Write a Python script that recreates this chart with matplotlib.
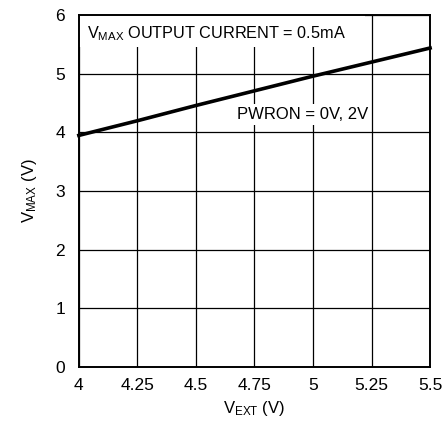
import numpy as np
import matplotlib
matplotlib.use("Agg")
from matplotlib import pyplot as plt
from matplotlib.patches import Rectangle

plt.rcParams['font.family'] = ['Liberation Sans Narrow', 'Liberation Sans', 'DejaVu Sans']
plt.rcParams['mathtext.fontset'] = 'custom'
plt.rcParams['mathtext.rm'] = 'Liberation Sans Narrow'
plt.rcParams['font.size'] = 11

# data
v_ext = [4.0, 4.25, 4.5, 4.75, 5.0, 5.25, 5.5]
v_max = [3.95, 4.20, 4.46, 4.71, 4.96, 5.20, 5.44]
x_ticks = [4, 4.25, 4.5, 4.75, 5, 5.25, 5.5]
x_labels = ['4', '4.25', '4.5', '4.75', '5', '5.25', '5.5']
y_ticks = [0, 1, 2, 3, 4, 5, 6]

fig = plt.figure(figsize=(4.48, 4.21), dpi=100)
ax = fig.add_axes([0.176, 0.128, 0.784, 0.836])

ax.set_xlim(4, 5.5)
ax.set_ylim(0, 6)
ax.set_xticks(x_ticks)
ax.set_xticklabels(x_labels)
ax.set_yticks(y_ticks)
ax.tick_params(length=0, pad=8, labelsize=12.5)
ax.tick_params(axis='y', pad=10)
ax.set_axisbelow(True)
ax.grid(True, color='black', linewidth=0.9)
for spine in ax.spines.values():
    spine.set_linewidth(1.4)

# white box behind the header text
ax.add_patch(Rectangle((0, 0.91), 0.815, 0.09, transform=ax.transAxes,
                       facecolor='white', edgecolor='none', zorder=1))

ax.plot(v_ext, v_max, color='black', linewidth=2.6, zorder=3, clip_on=False)

ax.text(4.035, 5.69, r'$\mathregular{V_{MAX}}$ OUTPUT CURRENT = 0.5mA',
        fontsize=11.7, va='center', ha='left', zorder=4)
ax.text(4.675, 4.31, 'PWRON = 0V, 2V', fontsize=12, va='center', ha='left',
        zorder=2, bbox=dict(facecolor='white', edgecolor='none', pad=2))

ax.set_xlabel(r'$\mathregular{V_{EXT}}$ (V)', fontsize=12, labelpad=4)
ax.set_ylabel(r'$\mathregular{V_{MAX}}$ (V)', fontsize=12, labelpad=12)

plt.savefig("out.png", dpi=100)
